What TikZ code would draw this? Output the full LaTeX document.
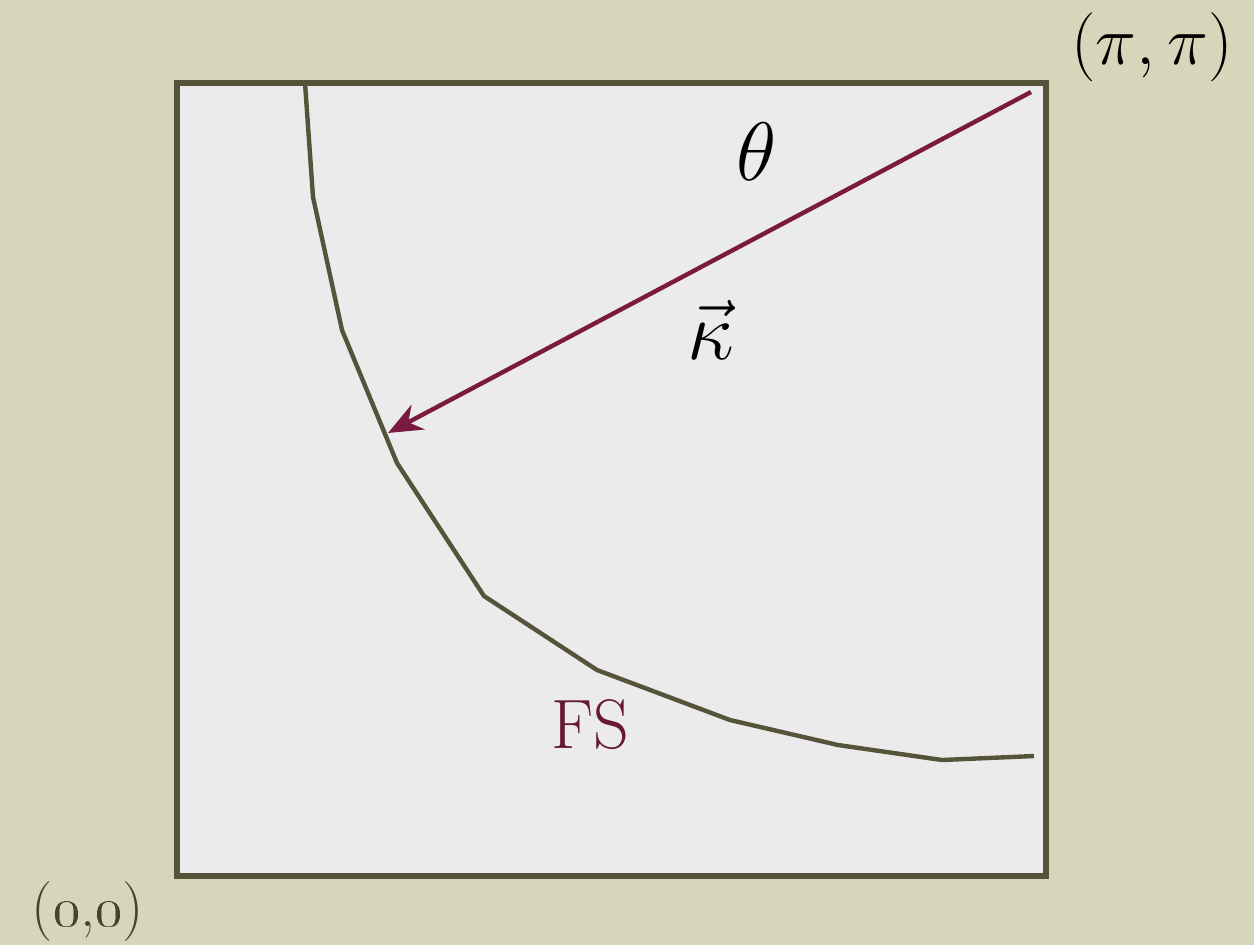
\documentclass[tikz,border=0pt]{standalone}
\usepackage{tikz}
\usetikzlibrary{positioning, arrows.meta, calc}
\definecolor{paper}{HTML}{D7D6BA}
\definecolor{panel}{HTML}{EBEBEB}
\definecolor{olive}{HTML}{55533A}
\definecolor{darkolive}{HTML}{48442C}
\definecolor{wine}{HTML}{7A1A3E}
\definecolor{fsred}{HTML}{661832}
\begin{document}
\begin{tikzpicture}[x=0.25pt, y=-0.25pt, >=Stealth]
  \fill[paper] (0,0) rectangle (1254,945);
  \useasboundingbox (0,0) rectangle (1254,945);
  \draw[olive, line width=1.4pt, fill=panel] (177,83) rectangle (1046,876);
  % Fermi surface
  \coordinate (F0) at (305,83);   \coordinate (F1) at (313,197);
  \coordinate (F2) at (342,330);  \coordinate (F3) at (397,463);
  \coordinate (F4) at (484,596);  \coordinate (F5) at (597,670);
  \coordinate (F6) at (730,720);  \coordinate (F7) at (838,745);
  \coordinate (F8) at (942,760);  \coordinate (F9) at (1034,756);
  \draw[olive, line width=1.1pt, line join=round] (F0)
    \foreach \p in {F1,F2,F3,F4,F5,F6,F7,F8,F9}{ -- (\p)};
  % vector
  \coordinate (kstart) at (1031,92);
  \coordinate (kend) at (388,433);
  \draw[wine, line width=1.1pt, -{Stealth[length=8.5pt, width=7pt]}] (kstart) -- (kend);
  \node[font=\fontsize{20}{24}\selectfont] (theta) at (757,152) {$\theta$};
  \node[font=\fontsize{20}{24}\selectfont] (kappa) at (711,330) {$\vec{\kappa}$};
  \node[text=fsred, font=\fontsize{17.5}{21}\selectfont] (FS) at (590,725) {FS};
  \node[font=\fontsize{17.5}{21}\selectfont] (pipi) at (1152,47) {$(\pi,\pi)$};
  \node[text=darkolive, font=\fontsize{15}{18}\selectfont] (origin) at (88,912) {(\oldstylenums{0},\oldstylenums{0})};
\end{tikzpicture}
\end{document}
